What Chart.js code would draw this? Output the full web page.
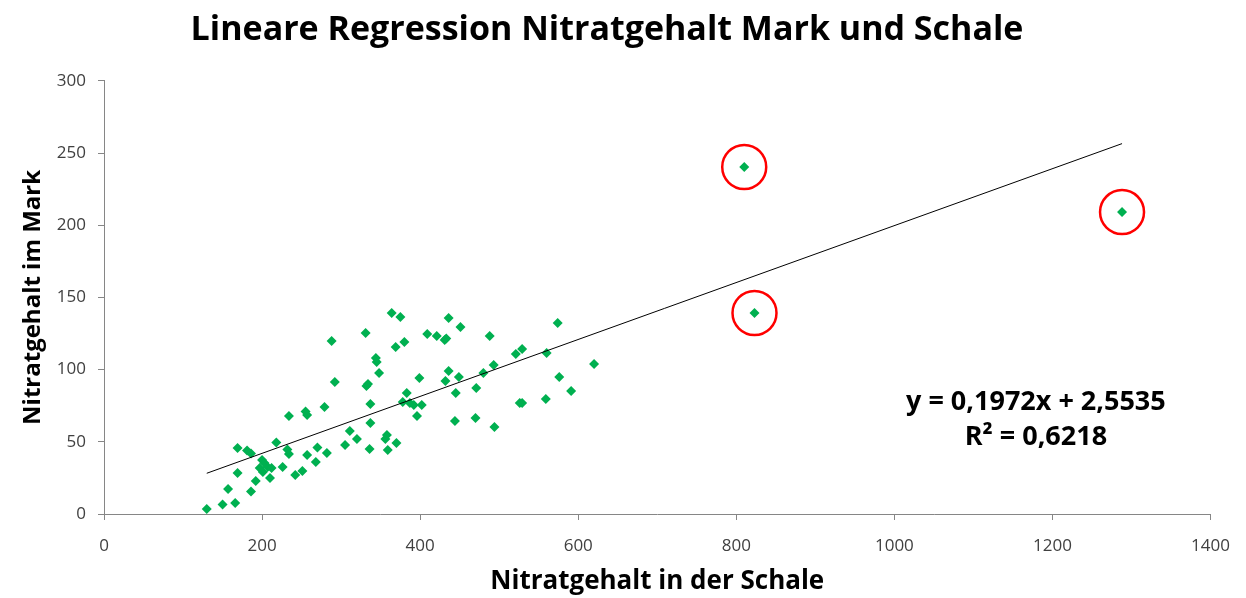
<!DOCTYPE html>
<html lang="de">
<head>
  <meta charset="UTF-8" />
  <title>Lineare Regression Nitratgehalt Mark und Schale</title>
  <script src="https://cdn.jsdelivr.net/npm/chart.js"></script>
  <style>
    html, body { margin: 0; padding: 0; background: #fff; }
    #wrap { width: 1246px; height: 598px; }
  </style>
</head>
<body>
<div id="wrap"><canvas id="chart"></canvas></div>
<script>
  // Nitratgehalt in der Schale (x) / im Mark (y)
  const schale = [130, 150, 166, 157, 186, 192, 169, 169, 181, 186, 218, 200, 203, 197, 207, 201, 212, 210,
    226, 232, 234, 234, 242, 251, 257, 255, 257, 268, 270, 279, 282, 288, 292, 305, 311, 320, 331, 332, 334,
    337, 337, 336, 344, 345, 348, 358, 356, 359, 364, 369, 370, 375, 380, 378, 383, 387, 392, 396, 399, 402,
    409, 421, 431, 433, 436, 451, 436, 432, 449, 445, 444, 471, 470, 480, 488, 493, 494, 521, 529, 526, 529,
    560, 559, 574, 576, 591, 620, 810, 823, 1288];
  const mark = [3.5, 6.6, 7.6, 17.3, 15.6, 22.9, 28.4, 45.7, 44.0, 41.9, 49.5, 37.4, 35.3, 31.8, 32.5, 29.1, 31.8, 24.9,
    32.5, 44.7, 41.5, 67.9, 27.0, 29.8, 40.9, 71.0, 68.5, 36.0, 46.0, 74.1, 42.2, 119.8, 91.4, 47.8, 57.5, 51.9, 125.3, 88.6, 90.0,
    76.2, 63.0, 45.0, 108.0, 105.2, 97.6, 54.7, 51.9, 44.3, 139.2, 115.6, 49.2, 136.4, 119.1, 77.5, 83.8, 76.9, 75.5, 67.9, 94.2, 75.5,
    124.6, 123.2, 120.5, 121.5, 135.7, 129.5, 99.0, 92.1, 94.9, 83.8, 64.4, 87.2, 66.5, 97.6, 123.2, 103.2, 60.2, 110.8, 114.2, 76.9, 76.9,
    111.5, 79.6, 132.2, 94.9, 85.2, 103.9, 240.3, 139.2, 209.1];

  // markierte Ausreißer
  const ausreisserX = [810, 823, 1288];
  const ausreisserY = [240.3, 139.2, 209.1];

  // Trendlinie (Endpunkte)
  const trendX = [130, 1288];
  const trendY = [28.2, 256.5];

  const xTicks = [0, 200, 400, 600, 800, 1000, 1200, 1400];
  const yTicks = [0, 50, 100, 150, 200, 250, 300];

  const FONT = '"Liberation Sans Narrow", "Open Sans", sans-serif';

  const toPts = (xs, ys) => xs.map((x, i) => ({ x, y: ys[i] }));

  const equationPlugin = {
    id: 'equation',
    afterDatasetsDraw(chart) {
      const { ctx, scales } = chart;
      const cx = scales.x.getPixelForValue(1179);
      ctx.save();
      ctx.fillStyle = '#000';
      ctx.font = 'bold 27px ' + FONT;
      ctx.textAlign = 'center';
      ctx.textBaseline = 'middle';
      ctx.fillText('y = 0,1972x + 2,5535', cx, scales.y.getPixelForValue(77.5));
      ctx.fillText('R² = 0,6218', cx, scales.y.getPixelForValue(53.3));
      ctx.restore();
    }
  };

  new Chart(document.getElementById('chart'), {
    type: 'scatter',
    data: {
      datasets: [
        {
          label: 'Ausreißer',
          data: toPts(ausreisserX, ausreisserY),
          pointStyle: 'circle',
          pointRadius: 22,
          pointHoverRadius: 22,
          borderColor: '#ff0000',
          borderWidth: 2.5,
          backgroundColor: 'rgba(0,0,0,0)'
        },
        {
          label: 'Trendlinie',
          type: 'line',
          data: toPts(trendX, trendY),
          borderColor: '#000',
          borderWidth: 1,
          pointRadius: 0,
          fill: false
        },
        {
          label: 'Messwerte',
          data: toPts(schale, mark),
          pointStyle: 'rectRot',
          pointRadius: 5,
          pointHoverRadius: 5,
          backgroundColor: '#00b050',
          borderColor: '#00b050',
          borderWidth: 0
        }
      ]
    },
    options: {
      responsive: true,
      maintainAspectRatio: false,
      animation: false,
      layout: { padding: { left: 0, right: 32, top: 0, bottom: 0 } },
      plugins: {
        legend: { display: false },
        tooltip: { enabled: false },
        title: {
          display: true,
          text: 'Lineare Regression Nitratgehalt Mark und Schale',
          color: '#000',
          font: { family: FONT, size: 34, weight: 'bold' },
          padding: { top: 10, bottom: 30 }
        }
      },
      scales: {
        x: {
          type: 'linear',
          min: 0,
          max: 1400,
          afterBuildTicks: s => { s.ticks = xTicks.map(v => ({ value: v })); },
          afterFit: s => { s.height = 84; },
          grid: { drawOnChartArea: false, color: '#868686', tickLength: 6 },
          border: { color: '#868686', width: 1 },
          ticks: { color: '#404040', font: { family: FONT, size: 17 }, padding: 16, callback: v => String(v) },
          title: {
            display: true,
            text: 'Nitratgehalt in der Schale',
            color: '#000',
            font: { family: FONT, size: 26, weight: 'bold' },
            padding: { top: 0, bottom: 1 }
          }
        },
        y: {
          type: 'linear',
          min: 0,
          max: 300,
          afterBuildTicks: s => { s.ticks = yTicks.map(v => ({ value: v })); },
          afterFit: s => { s.width = 104; },
          grid: { drawOnChartArea: false, color: '#868686', tickLength: 6 },
          border: { color: '#868686', width: 1 },
          ticks: { color: '#404040', font: { family: FONT, size: 17 }, padding: 12, callback: v => String(v) },
          title: {
            display: true,
            text: 'Nitratgehalt im Mark',
            color: '#000',
            font: { family: FONT, size: 24, weight: 'bold' },
            padding: { top: 19, bottom: 0 }
          }
        }
      }
    },
    plugins: [equationPlugin]
  });
</script>
</body>
</html>
